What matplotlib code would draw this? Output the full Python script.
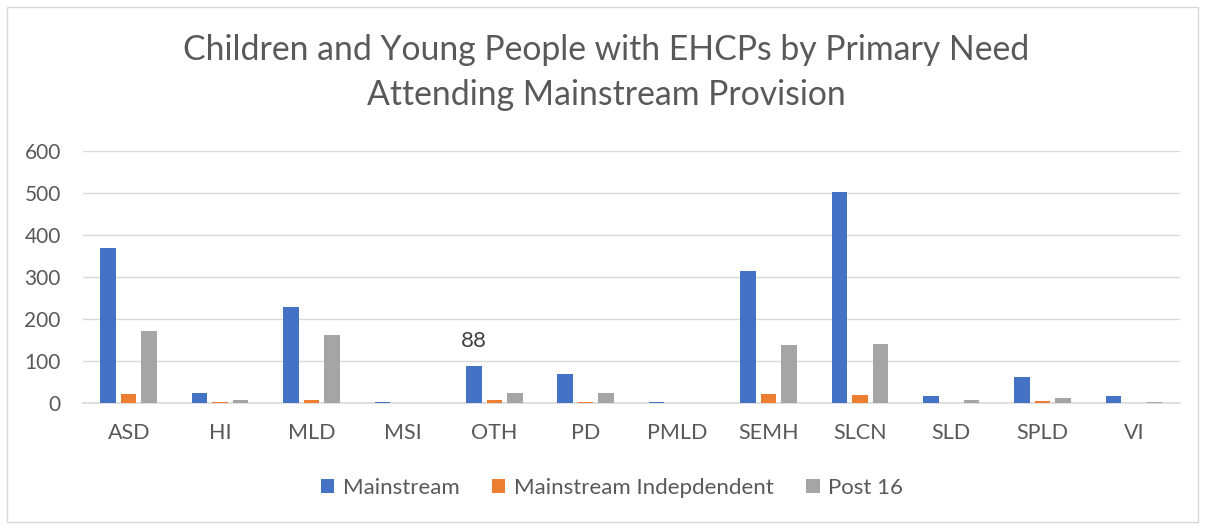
import matplotlib.pyplot as plt
import numpy as np
from matplotlib.patches import Rectangle

categories = ["ASD", "HI", "MLD", "MSI", "OTH", "PD", "PMLD", "SEMH", "SLCN", "SLD", "SPLD", "VI"]
mainstream = [368, 24, 229, 3, 88, 70, 3, 315, 503, 18, 63, 18]
mainstream_indep = [22, 3, 7, 0, 9, 4, 0, 21, 20, 0, 5, 0]
post16 = [171, 8, 163, 0, 24, 25, 0, 139, 140, 9, 13, 4]
series_names = ["Mainstream", "Mainstream Indepdendent", "Post 16"]
colors = ["#4472C4", "#ED7D31", "#A5A5A5"]

plt.rcParams['font.family'] = ['Lato', 'DejaVu Sans']
fig = plt.figure(figsize=(12.05, 5.25), dpi=100)
ax = fig.add_axes([0.0689, 0.2318, 0.979 - 0.0689, 0.713 - 0.2318])

# chart border
fig.patches.append(Rectangle((0.006, 0.006), 0.988, 0.981, transform=fig.transFigure,
                             fill=False, edgecolor="#D9D9D9", linewidth=1))

x = np.arange(len(categories))
step = 0.224
width = 0.17
for i, (vals, name, c) in enumerate(zip([mainstream, mainstream_indep, post16], series_names, colors)):
    ax.bar(x + (i - 1) * step, vals, width, color=c, label=name, zorder=3)

# data label on OTH
oth = categories.index("OTH")
ax.annotate(str(mainstream[oth]), (x[oth] - step, mainstream[oth]), xytext=(0, 11),
            textcoords="offset points", ha="center", va="bottom", fontsize=16, color="#404040")

ax.set_xlim(-0.5, len(categories) - 0.5)
ax.set_ylim(0, 600)
ax.set_yticks(range(0, 601, 100))
ax.set_xticks(x)
ax.set_xticklabels(categories)
ax.grid(axis="y", color="#D9D9D9", linewidth=1, zorder=0)
for s in ["top", "right", "left"]:
    ax.spines[s].set_visible(False)
ax.spines["bottom"].set_color("#D9D9D9")
ax.spines["bottom"].set_linewidth(1.2)
ax.tick_params(axis="both", length=0, colors="#595959")
ax.tick_params(axis="x", pad=14, labelsize=15.5)
ax.tick_params(axis="y", pad=16, labelsize=15)

fig.text(0.503, 0.861, "Children and Young People with EHCPs by Primary Need\nAttending Mainstream Provision",
         ha="center", va="center", fontsize=24.3, color="#595959", linespacing=1.5)

leg = fig.legend(loc="center", bbox_to_anchor=(0.508, 0.07), ncol=3, frameon=False, fontsize=16,
                 handlelength=0.6, handleheight=0.6, handletextpad=0.4, columnspacing=1.45)
for t in leg.get_texts():
    t.set_color("#595959")

fig.savefig("out.png", dpi=100)
